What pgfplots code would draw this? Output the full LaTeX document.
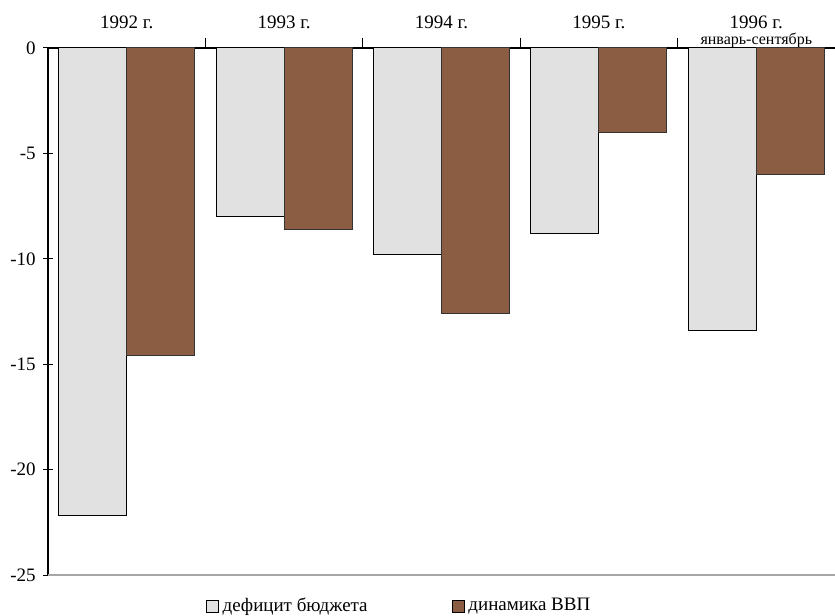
\documentclass[border=0pt]{standalone}
\usepackage{pgfplots}
\pgfplotsset{compat=1.18}
\usepackage{fontspec}
\setmainfont{Liberation Serif}
\definecolor{barbrown}{RGB}{139,94,67}
\definecolor{bargrey}{RGB}{225,225,225}
\begin{document}
\begin{tikzpicture}[font=\fontsize{9.5}{11}\selectfont]
\begin{axis}[
    name=ax,
    scale only axis,
    width=393.5pt, height=263.5pt,
    xmin=0, xmax=5, ymin=-25, ymax=0,
    axis x line*=top, axis y line*=left,
    axis line style={-, black, line width=0.7pt},
    tick align=center,
    xtick align=center,
    major tick length=5pt,
    tick style={black, line width=0.5pt},
    xtick={1,2,3,4}, xticklabels={},
    extra x ticks={0.5,1.5,2.5,3.5,4.5},
    extra x tick labels={
        {1992 г.\\[-3pt]{\footnotesize\phantom{январь}}},
        {1993 г.\\[-3pt]{\footnotesize\phantom{январь}}},
        {1994 г.\\[-3pt]{\footnotesize\phantom{январь}}},
        {1995 г.\\[-3pt]{\footnotesize\phantom{январь}}},
        {1996 г.\\[-3pt]{\footnotesize январь-сентябрь}}},
    extra x tick style={major tick length=0pt,
        xticklabel style={align=center, inner sep=0pt}},
    ytick={0,-5,-10,-15,-20,-25},
    yticklabels={0,-5,-10,-15,-20,-25},
    yticklabel style={inner sep=2pt, xshift=-1.5pt},
    ybar=0pt, bar width=0.432,
    legend image code/.code={\draw[#1, draw=black, line width=0.4pt] (0pt,-3pt) rectangle (6pt,3pt);},
    legend style={draw=none, fill=none, at={(0.2,-0.035)}, anchor=north west,
        legend columns=2, /tikz/every even column/.append style={column sep=40pt},
        inner sep=0pt},
    legend cell align=left,
]
\addplot[fill=bargrey, draw=black, line width=0.5pt] coordinates {
    (0.5,-22.2) (1.5,-8.0) (2.5,-9.8) (3.5,-8.8) (4.5,-13.4)};
\addlegendentry{дефицит бюджета}
\addplot[fill=barbrown, draw=black!80, line width=0.5pt] coordinates {
    (0.5,-14.6) (1.5,-8.6) (2.5,-12.6) (3.5,-4.0) (4.5,-6.0)};
\addlegendentry{динамика ВВП}
\draw[gray!70, line width=0.6pt] (rel axis cs:0,0) -- (rel axis cs:1,0);
\end{axis}
\pgfresetboundingbox
\path ([shift={(-24pt,-20pt)}]ax.south west) rectangle ([shift={(0pt,24pt)}]ax.north east);
\end{tikzpicture}
\end{document}
